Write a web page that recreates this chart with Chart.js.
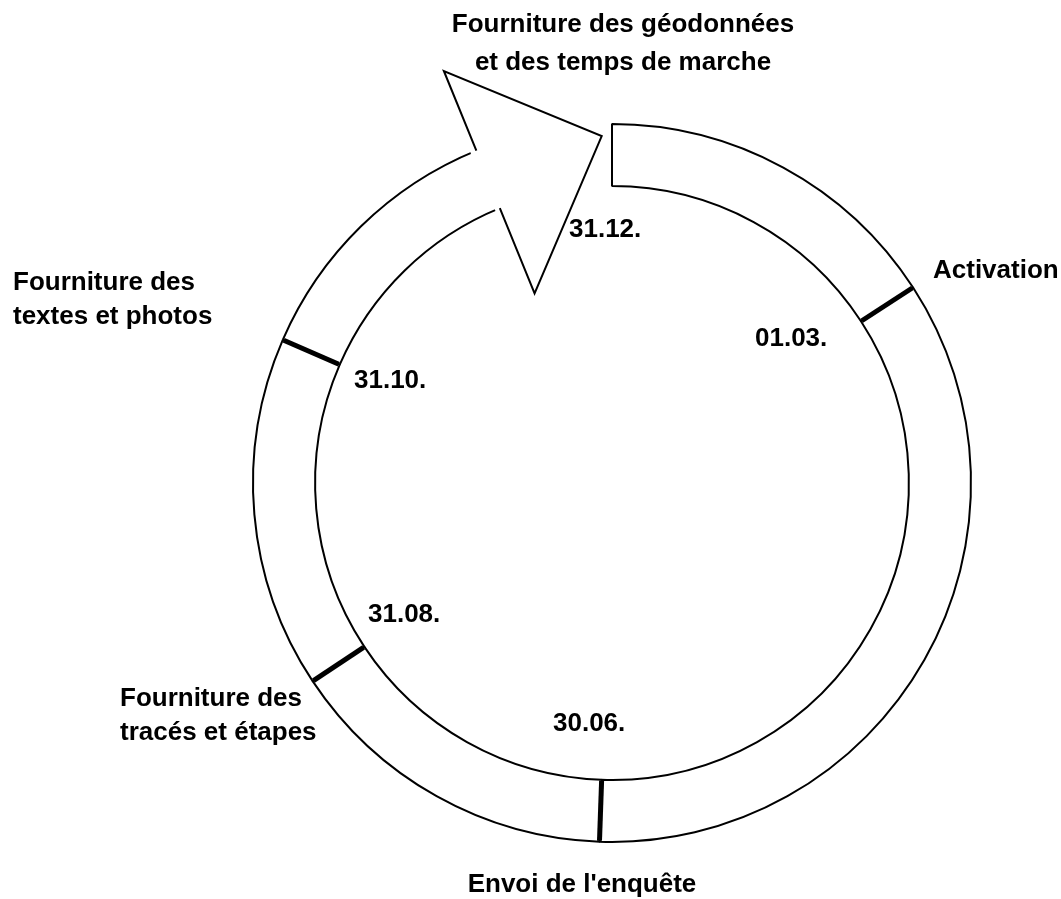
<!DOCTYPE html>
<html>
<head>
<meta charset="utf-8">
<script src="https://cdn.jsdelivr.net/npm/chart.js@4.4.0/dist/chart.umd.min.js"></script>
<style>
  html, body { margin: 0; padding: 0; background: #fff; }
  canvas { display: block; }
</style>
</head>
<body>
<canvas id="cycle" width="1061" height="899"></canvas>
<script>
// milestones, clockwise from the top of the ring
const milestones = ['31.12.', '01.03.', '30.06.', '31.08.', '31.10.'];

const phaseLabels = [
  ['Fourniture des géodonnées', 'et des temps de marche'],
  ['Activation'],
  ["Envoi de l'enquête"],
  ['Fourniture des', 'tracés et étapes'],
  ['Fourniture des', 'textes et photos']
];

// length of each ring piece in degrees, the last one is the arrow head
const ringDegrees = [57, 125, 54.5, 57, 44.3];
const arrowDegrees = 22.2;

const FONT = 'bold 26px "Liberation Sans", Arial, sans-serif';

function drawLines(ctx, lines, x, y, lh, align) {
  ctx.textAlign = align;
  lines.forEach((t, i) => ctx.fillText(t, x, y + i * lh));
}

const cyclePlugin = {
  id: 'cycle',
  afterDatasetsDraw(chart, args, opts) {
    const ctx = chart.ctx;
    const arcs = chart.getDatasetMeta(0).data;
    const cx = arcs[0].x, cy = arcs[0].y;
    const rOut = arcs[0].outerRadius, rIn = arcs[0].innerRadius;
    const pt = (a, r) => [cx + r * Math.cos(a), cy + r * Math.sin(a)];
    const rad = d => d * Math.PI / 180;

    ctx.save();
    ctx.strokeStyle = '#000';
    ctx.lineCap = 'butt';

    // thick separators between the phases
    ctx.lineWidth = 5;
    for (let i = 1; i < ringDegrees.length; i++) {
      const a = arcs[i].startAngle;
      ctx.beginPath();
      ctx.moveTo(...pt(a, rIn + 1));
      ctx.lineTo(...pt(a, rOut - 1));
      ctx.stroke();
    }

    // arrow head at the end of the ring
    const head = arcs[arcs.length - 1];
    const a0 = head.startAngle;
    const tip = pt(head.endAngle - rad(1.7), rOut - 12);
    const backOut = pt(a0, rOut + 86);
    const backIn = pt(a0, rIn - 92);

    ctx.fillStyle = '#fff';
    ctx.beginPath();
    ctx.moveTo(...backOut);
    ctx.lineTo(...tip);
    ctx.lineTo(...backIn);
    ctx.lineTo(...pt(a0 - rad(1), rIn + 1.5));
    ctx.lineTo(...pt(a0 - rad(1), rOut - 1.5));
    ctx.closePath();
    ctx.fill();

    ctx.lineWidth = 2;
    ctx.lineJoin = 'miter';
    ctx.beginPath();
    ctx.moveTo(...pt(a0, rOut));
    ctx.lineTo(...backOut);
    ctx.lineTo(...tip);
    ctx.lineTo(...backIn);
    ctx.lineTo(...pt(a0, rIn));
    ctx.stroke();

    // texts
    ctx.fillStyle = '#000';
    ctx.font = FONT;
    ctx.textBaseline = 'alphabetic';
    phaseLabels.forEach((lines, i) => {
      const p = opts.phasePos[i];
      drawLines(ctx, lines, cx + p.dx, cy + p.dy, p.lh || 0, p.align);
    });
    milestones.forEach((m, i) => {
      const p = opts.datePos[i];
      drawLines(ctx, [m], cx + p.dx, cy + p.dy, 0, 'left');
    });
    ctx.restore();
  }
};

new Chart(document.getElementById('cycle'), {
  type: 'doughnut',
  data: {
    labels: milestones.concat(['']),
    datasets: [{
      data: ringDegrees.concat([arrowDegrees]),
      backgroundColor: ringDegrees.map(() => '#fff').concat(['rgba(0,0,0,0)']),
      borderColor: '#000',
      borderWidth: ringDegrees.map(() => 2).concat([0])
    }]
  },
  options: {
    responsive: false,
    animation: false,
    events: [],
    radius: 359,
    cutout: '82.7%',
    layout: { padding: { left: 200, right: 37, top: 100, bottom: 33 } },
    plugins: {
      legend: { display: false },
      tooltip: { enabled: false },
      cycle: {
        phasePos: [
          { dx: 11, dy: -451, lh: 38, align: 'center' },
          { dx: 321, dy: -205, align: 'left' },
          { dx: -30, dy: 409, align: 'center' },
          { dx: -492, dy: 223, lh: 34, align: 'left' },
          { dx: -599, dy: -193, lh: 34, align: 'left' }
        ],
        datePos: [
          { dx: -43, dy: -246 },
          { dx: 143, dy: -137 },
          { dx: -59, dy: 248 },
          { dx: -244, dy: 139 },
          { dx: -258, dy: -95 }
        ]
      }
    }
  },
  plugins: [cyclePlugin]
});
</script>
</body>
</html>
